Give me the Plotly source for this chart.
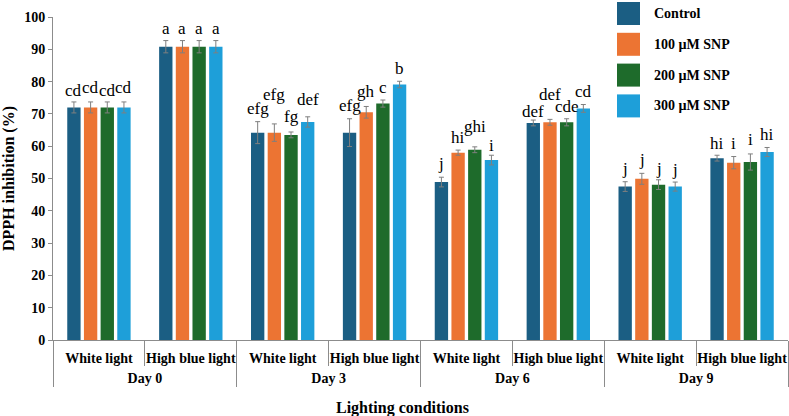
import plotly.graph_objects as go

# ---------------- data ----------------
days = ["Day 0", "Day 0", "Day 3", "Day 3", "Day 6", "Day 6", "Day 9", "Day 9"]
lights = ["White light", "High blue light"] * 4

series_names = ["Control", "100 µM SNP", "200 µM SNP", "300 µM SNP"]

control = [72.0, 90.8, 64.2, 64.2, 48.9, 67.2, 47.5, 56.3]
snp100 = [72.0, 90.8, 64.2, 70.5, 58.0, 67.4, 49.9, 54.9]
snp200 = [72.0, 90.8, 63.5, 73.2, 58.9, 67.4, 48.1, 55.1]
snp300 = [72.0, 90.8, 67.5, 79.1, 55.7, 71.7, 47.5, 58.2]

control_err = [1.7, 1.9, 3.4, 4.3, 1.5, 0.9, 1.5, 0.9]
snp100_err = [1.7, 1.9, 2.7, 1.8, 0.8, 0.9, 1.7, 1.9]
snp200_err = [1.7, 1.9, 0.9, 1.1, 0.9, 1.1, 1.5, 2.5]
snp300_err = [1.7, 1.9, 1.6, 1.0, 1.5, 1.2, 1.4, 1.4]

control_lbl = ["cd", "a", "efg", "efg", "j", "def", "j", "hi"]
snp100_lbl = ["cd", "a", "efg", "gh", "hi", "def", "j", "i"]
snp200_lbl = ["cd", "a", "fg", "c", "ghi", "cde", "j", "i"]
snp300_lbl = ["cd", "a", "def", "b", "i", "cd", "j", "hi"]

y_ticks = [0, 10, 20, 30, 40, 50, 60, 70, 80, 90, 100]

# ---------------- style ----------------
colors = ["#1B5E83", "#EC7433", "#1E6B2B", "#1E9FD9"]
label_lift = [  # extra pixel lift so crowded letters do not collide
    [-1, 0, 1, 1, 2, -3, 1, 0],
    [2, 0, 17, 3, 1, 13, 2, 1],
    [-1, 0, 3, 1, 8, 0, -1, 2],
    [2, 0, 5, 1, -2, 1, 1, 1],
]
SERIF = "Liberation Serif, Times New Roman, serif"
W, H = 789, 416
ML, MR, MT, MB = 53, 1, 17, 76
BARGAP, BARGROUPGAP = 0.274, 0.2

values = [control, snp100, snp200, snp300]
errors = [control_err, snp100_err, snp200_err, snp300_err]
letters = [control_lbl, snp100_lbl, snp200_lbl, snp300_lbl]

# axis label text: 14px glyphs on a smaller base size so the two label rows
# sit as far apart as in the reference
span = "<span style='font-size:14px'>%s</span>"
x_outer = ["<br>" + span % d for d in days]
x_inner = [span % l for l in lights]

fig = go.Figure()
for k in range(4):
    fig.add_trace(go.Bar(
        x=[x_outer, x_inner], y=values[k], name=series_names[k],
        marker=dict(color=colors[k], line=dict(width=0)),
        error_y=dict(type="data", array=errors[k], color="#7f7f7f",
                     thickness=1, width=2.5),
        showlegend=False,
    ))

# significance letters, positioned on the category scale
n_series = len(values)
slot = (1 - BARGAP) / n_series
annotations = []
for k in range(n_series):
    for i in range(len(days)):
        xc = i - (1 - BARGAP) / 2 + (k + 0.5) * slot
        annotations.append(dict(
            x=xc, y=values[k][i] + errors[k][i], xref="x", yref="y",
            text=letters[k][i], showarrow=False, yanchor="middle",
            yshift=12 + label_lift[k][i],
            font=dict(family=SERIF, size=17, color="black"),
        ))

# legend drawn as boxes + text
pw, ph = W - ML - MR, H - MT - MB
def px_x(px):
    return (px - ML) / pw
def px_y(py):
    return (H - MB - py) / ph

shapes = []
for k, name in enumerate(series_names):
    top = 2 + k * 30.8
    shapes.append(dict(type="rect", xref="paper", yref="paper",
                       x0=px_x(617), x1=px_x(640), y0=px_y(top + 23), y1=px_y(top),
                       fillcolor=colors[k], line=dict(width=0)))
    annotations.append(dict(x=px_x(652), y=px_y(top + 11.5), xref="paper", yref="paper",
                            text="<b>%s</b>" % name, showarrow=False,
                            xanchor="left", yanchor="middle",
                            font=dict(family=SERIF, size=14, color="black")))

annotations.append(dict(x=px_x(402), y=px_y(408), xref="paper", yref="paper",
                        text="<b>Lighting conditions</b>", showarrow=False,
                        xanchor="center", yanchor="middle",
                        font=dict(family=SERIF, size=16, color="black")))

fig.update_layout(
    width=W, height=H,
    margin=dict(l=ML, r=MR, t=MT, b=MB, autoexpand=False),
    paper_bgcolor="white", plot_bgcolor="white",
    barmode="group", bargap=BARGAP, bargroupgap=BARGROUPGAP,
    font=dict(family=SERIF, color="black"),
    shapes=shapes, annotations=annotations,
    showlegend=False,
)
fig.update_xaxes(
    type="multicategory", showline=True, linecolor="#8c8c8c", linewidth=1,
    ticks="outside", tickson="boundaries", ticklen=25, tickcolor="#8c8c8c",
    showdividers=True, dividercolor="#8c8c8c", dividerwidth=1,
    tickangle=0, automargin=False, ticklabelstandoff=10,
    tickfont=dict(family=SERIF, size=10, color="black", weight="bold"),
    showgrid=False, zeroline=False,
)
fig.update_yaxes(
    range=[0, 100], tickvals=y_ticks, showline=True, linecolor="#8c8c8c",
    linewidth=1, ticks="outside", ticklen=4, tickcolor="#8c8c8c",
    tickfont=dict(family=SERIF, size=14, color="black", weight="bold"),
    showgrid=False, zeroline=False, automargin=False,
    title=dict(text="<b>DPPH inhibition (%)</b>", standoff=6,
               font=dict(family=SERIF, size=16, color="black")),
)

fig.write_html("out.html")
